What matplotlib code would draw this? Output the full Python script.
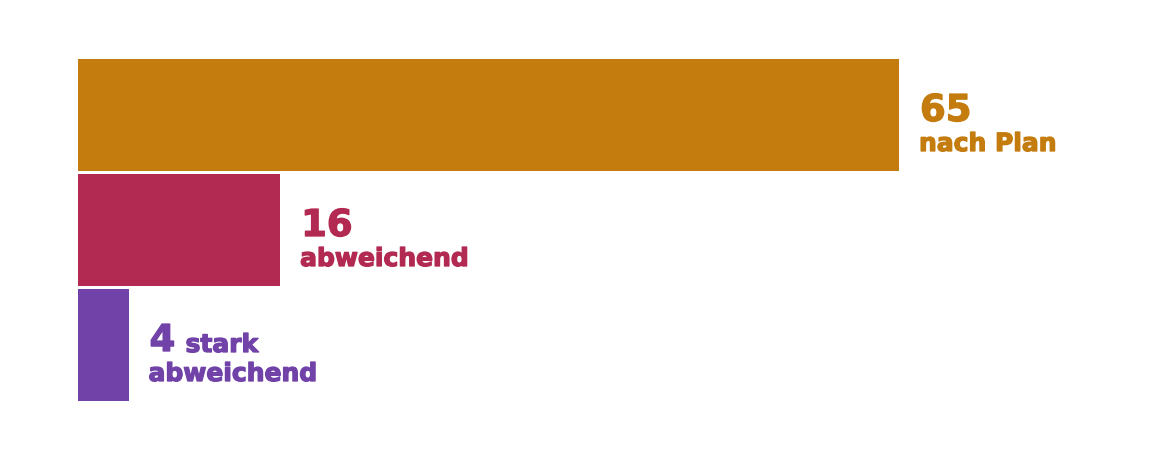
import matplotlib.pyplot as plt
import matplotlib.patheffects as pe

# counts per category, top to bottom
values = [65, 16, 4]
inline_words = ["", "", "stark"]          # text placed right of the number
lower_lines = ["nach Plan", "abweichend", "abweichend"]  # text on the line below
colors = ["#c47c0e", "#b22a52", "#7142a8"]

W, H = 1152, 460
fig = plt.figure(figsize=(W / 72, H / 72), dpi=72)  # 1 pt == 1 px
fig.patch.set_facecolor("white")

# axes placed so that 0 sits at x=78px and 65 at x=899px
ax = fig.add_axes([78 / W, (H - 402.5) / H, 821 / W, 345 / H])
ax.barh(range(len(values)), values, height=112 / 115, color=colors)
ax.set_xlim(0, max(values))
ax.set_ylim(len(values) - 0.5, -0.5)
ax.axis("off")

big = dict(fontsize=37, fontweight="bold", family="DejaVu Sans", va="baseline", ha="left")
small = dict(fontsize=25, fontweight="bold", family="DejaVu Sans", va="baseline", ha="left")

for i, v in enumerate(values):
    c = colors[i]
    # thin stroke in the same colour to get a heavier weight
    fx = [pe.withStroke(linewidth=1.3, foreground=c)]
    t = ax.annotate(str(v), (v, i), xytext=(21, -6), textcoords="offset points",
                    color=c, annotation_clip=False, **big)
    t.set_path_effects(fx)
    if inline_words[i]:
        t = ax.annotate(inline_words[i], (v, i), xytext=(57, -7), textcoords="offset points",
                        color=c, annotation_clip=False, **small)
        t.set_path_effects(fx)
    t = ax.annotate(lower_lines[i], (v, i), xytext=(20, -36), textcoords="offset points",
                    color=c, annotation_clip=False, **small)
    t.set_path_effects(fx)

fig.savefig("out.png", dpi=72, facecolor="white")
